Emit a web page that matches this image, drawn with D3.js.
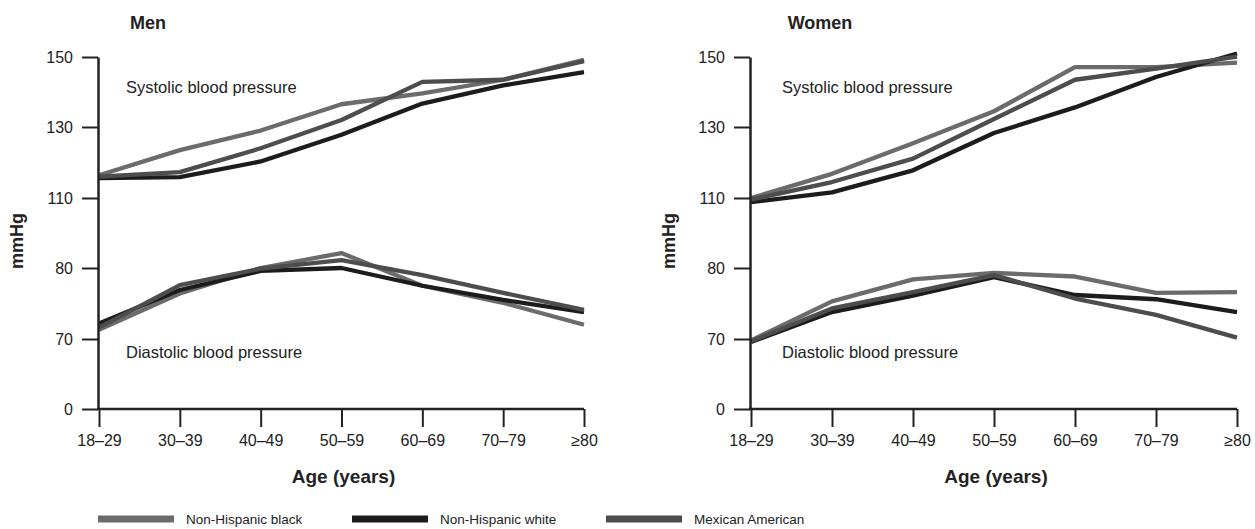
<!DOCTYPE html>
<html lang="en">
<head>
    <meta charset="UTF-8">
    <title>Blood pressure by age</title>
    <script src="https://cdn.jsdelivr.net/npm/d3@7"></script>
    <style>
        * { margin: 0; padding: 0; }
        body { background: #fff; }
        text { font-family: "Liberation Sans", Arial, sans-serif; fill: #222; }
    </style>
</head>
<body>
    <script>
        const ageGroups = ["18–29", "30–39", "40–49", "50–59", "60–69", "70–79", "≥80"];
        const groups = ["Non-Hispanic black", "Non-Hispanic white", "Mexican American"];
        const colors = ["#6b6b6b", "#1c1c1c", "#4d4d4d"];
        const yTicks = [0, 70, 80, 110, 130, 150];

        // men
        const menSysBlack = [116.4, 123.5, 129, 136.5, 139.6, 143.5, 149.2];
        const menSysWhite = [115.6, 115.9, 120.3, 127.8, 136.7, 141.9, 145.7];
        const menSysMex = [116, 117.3, 124, 132, 142.9, 143.5, 148.8];
        const menDiaBlack = [71.3, 76.4, 80, 86.4, 77.5, 75.1, 72];
        const menDiaWhite = [72.2, 76.9, 79.6, 80, 77.5, 75.5, 73.8];
        const menDiaMex = [71.6, 77.6, 79.9, 83.4, 79, 76.5, 74.1];

        // women
        const womenSysBlack = [110, 116.8, 125.4, 134.5, 147.1, 147.1, 148.4];
        const womenSysWhite = [108.2, 111.6, 117.8, 128.3, 135.6, 144.3, 151];
        const womenSysMex = [109.3, 114.5, 121.1, 132.3, 143.5, 146.7, 150.1];
        const womenDiaBlack = [68.5, 75.3, 78.4, 79.3, 78.8, 76.5, 76.6];
        const womenDiaWhite = [67, 73.8, 76.1, 78.7, 76.2, 75.6, 73.8];
        const womenDiaMex = [67.8, 74.3, 76.6, 79, 75.7, 73.4, 70.2];

        const width = 1255, height = 529;
        const svg = d3.select("body").append("svg").attr("width", width).attr("height", height);

        // broken axis: each labelled tick sits the same distance apart
        const y = d3.scaleLinear().domain(yTicks).range([409, 339, 268, 198, 127, 57]);

        const panels = [
            { title: "Men", titleX: 148, x0: 99, x1: 584, sys: [menSysBlack, menSysWhite, menSysMex], dia: [menDiaBlack, menDiaWhite, menDiaMex] },
            { title: "Women", titleX: 820, x0: 751, x1: 1237, sys: [womenSysBlack, womenSysWhite, womenSysMex], dia: [womenDiaBlack, womenDiaWhite, womenDiaMex] }
        ];

        panels.forEach((p, pi) => {
            const x = d3.scalePoint().domain(ageGroups).range([p.x0, p.x1]);
            const g = svg.append("g");

            const line = d3.line().x((d, i) => x(ageGroups[i])).y(d => y(d));
            [p.sys, p.dia].forEach(set => {
                set.forEach((vals, k) => {
                    g.append("path")
                        .datum(vals)
                        .attr("d", line)
                        .attr("fill", "none")
                        .attr("stroke", colors[k])
                        .attr("stroke-width", 4.3)
                        .attr("stroke-linejoin", "round");
                });
            });

            const yAxis = g.append("g")
                .attr("transform", `translate(${p.x0 - 1},0)`)
                .call(d3.axisLeft(y).tickValues(yTicks).tickFormat(d3.format("d")).tickSize(16).tickSizeOuter(0).tickPadding(9));
            const xAxis = g.append("g")
                .attr("transform", "translate(0,409)")
                .call(d3.axisBottom(x).tickSize(18).tickSizeOuter(0).tickPadding(8));
            [yAxis, xAxis].forEach(a => {
                a.select(".domain").attr("stroke", "#222").attr("stroke-width", 2.5);
                a.selectAll(".tick line").attr("stroke", "#222").attr("stroke-width", 2);
                a.selectAll(".tick text").attr("font-size", 16).attr("fill", "#222")
                    .attr("font-family", "Liberation Sans, Arial, sans-serif");
            });
            xAxis.select(".domain").attr("d", `M${p.x0 - 2},0H${p.x1}`);

            const dx = pi === 0 ? 27 : 31;
            g.append("text").attr("x", p.titleX).attr("y", 29).attr("text-anchor", "middle")
                .attr("font-size", 18).attr("font-weight", "bold").text(p.title);
            g.append("text").attr("x", p.x0 + dx).attr("y", 93).attr("font-size", 16.5).text("Systolic blood pressure");
            g.append("text").attr("x", p.x0 + dx).attr("y", 358).attr("font-size", 16.5).text("Diastolic blood pressure");
            g.append("text")
                .attr("transform", `translate(${p.x0 - 76},241) rotate(-90)`)
                .attr("text-anchor", "middle").attr("font-size", 18).attr("font-weight", "bold").text("mmHg");
            g.append("text").attr("x", (p.x0 + p.x1) / 2 + 2).attr("y", 483).attr("text-anchor", "middle")
                .attr("font-size", 19).attr("font-weight", "bold").text("Age (years)");
        });

        // legend
        const legendX = [98, 352, 606];
        const legend = svg.append("g").selectAll("g").data(groups).join("g")
            .attr("transform", (d, i) => `translate(${legendX[i]},519)`);
        legend.append("rect").attr("x", 0).attr("y", -3.5).attr("width", 76).attr("height", 7)
            .attr("fill", (d, i) => colors[i]);
        legend.append("text").attr("x", 88).attr("y", 5).attr("font-size", 13.5).text(d => d);
    </script>
</body>
</html>
